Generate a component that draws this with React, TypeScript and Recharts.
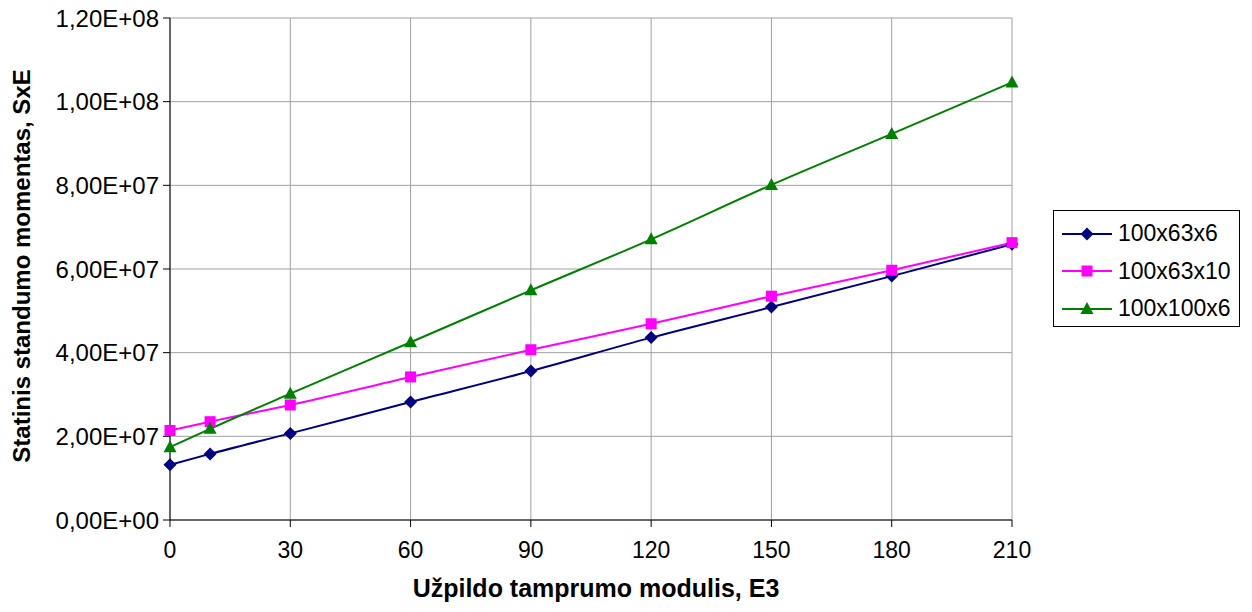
import { LineChart, Line, XAxis, YAxis, CartesianGrid } from "recharts";

// modulus values (E3)
const xValues = [0, 10, 30, 60, 90, 120, 150, 180, 210];
const s100x63x6 = [13.2e6, 15.8e6, 20.7e6, 28.2e6, 35.6e6, 43.6e6, 50.9e6, 58.3e6, 65.9e6];
const s100x63x10 = [21.4e6, 23.5e6, 27.5e6, 34.2e6, 40.7e6, 46.9e6, 53.5e6, 59.7e6, 66.3e6];
const s100x100x6 = [17.4e6, 21.8e6, 30.2e6, 42.5e6, 54.9e6, 67.1e6, 80.1e6, 92.3e6, 104.6e6];
const xTicks = [0, 30, 60, 90, 120, 150, 180, 210];
const yTicks = [0, 2e7, 4e7, 6e7, 8e7, 1e8, 1.2e8];

const seriesNames = ["100x63x6", "100x63x10", "100x100x6"];
const seriesColors = ["#000080", "#FF00FF", "#008000"];

const data = xValues.map((x, i) => ({
  x,
  a: s100x63x6[i],
  b: s100x63x10[i],
  c: s100x100x6[i],
}));

const FONT = "'Liberation Sans', Arial, sans-serif";

const fmtSci = (v: number) => {
  if (v === 0) return "0,00E+00";
  const exp = Math.floor(Math.log10(Math.abs(v)));
  const mant = (v / Math.pow(10, exp)).toFixed(2).replace(".", ",");
  return `${mant}E+${String(exp).padStart(2, "0")}`;
};

const Marker = ({ kind, cx, cy, color }: { kind: number; cx: number; cy: number; color: string }) => {
  if (cx == null || cy == null) return null;
  if (kind === 0) {
    const r = 6.5;
    return <polygon points={`${cx},${cy - r} ${cx + r},${cy} ${cx},${cy + r} ${cx - r},${cy}`} fill={color} />;
  }
  if (kind === 1) {
    const r = 5.5;
    return <rect x={cx - r} y={cy - r} width={r * 2} height={r * 2} fill={color} />;
  }
  const r = 6.5;
  return <polygon points={`${cx},${cy - 7} ${cx + r},${cy + 5} ${cx - r},${cy + 5}`} fill={color} />;
};

const LegendBox = () => (
  <div
    style={{
      position: "absolute",
      left: 1053,
      top: 210,
      border: "1px solid #000",
      background: "#fff",
      width: 187,
      height: 117,
      boxSizing: "border-box",
      paddingTop: 4,
      fontFamily: FONT,
      fontSize: 23,
    }}
  >
    {seriesNames.map((name, i) => (
      <div key={name} style={{ display: "flex", alignItems: "center", height: 37.5 }}>
        <svg width={56} height={20} style={{ marginLeft: 8, flex: "none" }}>
          <line x1={0} y1={10} x2={50} y2={10} stroke={seriesColors[i]} strokeWidth={2} />
          <Marker kind={i} cx={25} cy={10} color={seriesColors[i]} />
        </svg>
        <span style={{ color: "#000", lineHeight: 1 }}>{name}</span>
      </div>
    ))}
  </div>
);

const App = () => {
  const keys = ["a", "b", "c"];
  return (
    <div style={{ position: "absolute", left: 0, top: 0, width: 1252, height: 612, background: "#fff" }}>
      <LineChart
        width={1252}
        height={612}
        data={data}
        margin={{ top: 18, right: 240, bottom: 42, left: 10 }}
      >
        <CartesianGrid stroke="#a0a0a0" strokeWidth={1} />
        <XAxis
          dataKey="x"
          type="number"
          domain={[0, 210]}
          ticks={xTicks}
          height={50}
          axisLine={{ stroke: "#000" }}
          tickLine={{ stroke: "#000" }}
          tickSize={7}
          tick={{ fontSize: 23, fill: "#000", fontFamily: FONT, dy: 13 }}
          label={{
            content: () => (
              <text x={596} y={597} textAnchor="middle" fontFamily={FONT} fontSize={25} fontWeight="bold" fill="#000">
                Užpildo tamprumo modulis, E3
              </text>
            ),
          }}
        />
        <YAxis
          type="number"
          domain={[0, 1.2e8]}
          ticks={yTicks}
          width={160}
          tickFormatter={fmtSci}
          axisLine={{ stroke: "#000" }}
          tickLine={{ stroke: "#000" }}
          tickSize={7}
          tick={{ fontSize: 24, fill: "#000", fontFamily: FONT, dx: -2 }}
          label={{
            content: () => (
              <text
                x={30}
                y={266}
                textAnchor="middle"
                transform="rotate(-90 30 266)"
                fontFamily={FONT}
                fontSize={24}
                fontWeight="bold"
                fill="#000"
              >
                Statinis standumo momentas, SxE
              </text>
            ),
          }}
        />
        {keys.map((k, i) => (
          <Line
            key={k}
            dataKey={k}
            name={seriesNames[i]}
            type="monotone"
            stroke={seriesColors[i]}
            strokeWidth={2}
            isAnimationActive={false}
            dot={(p: any) => <Marker key={`${k}-${p.index}`} kind={i} cx={p.cx} cy={p.cy} color={seriesColors[i]} />}
            activeDot={false}
          />
        ))}
      </LineChart>
      <LegendBox />
    </div>
  );
};

export default App;
